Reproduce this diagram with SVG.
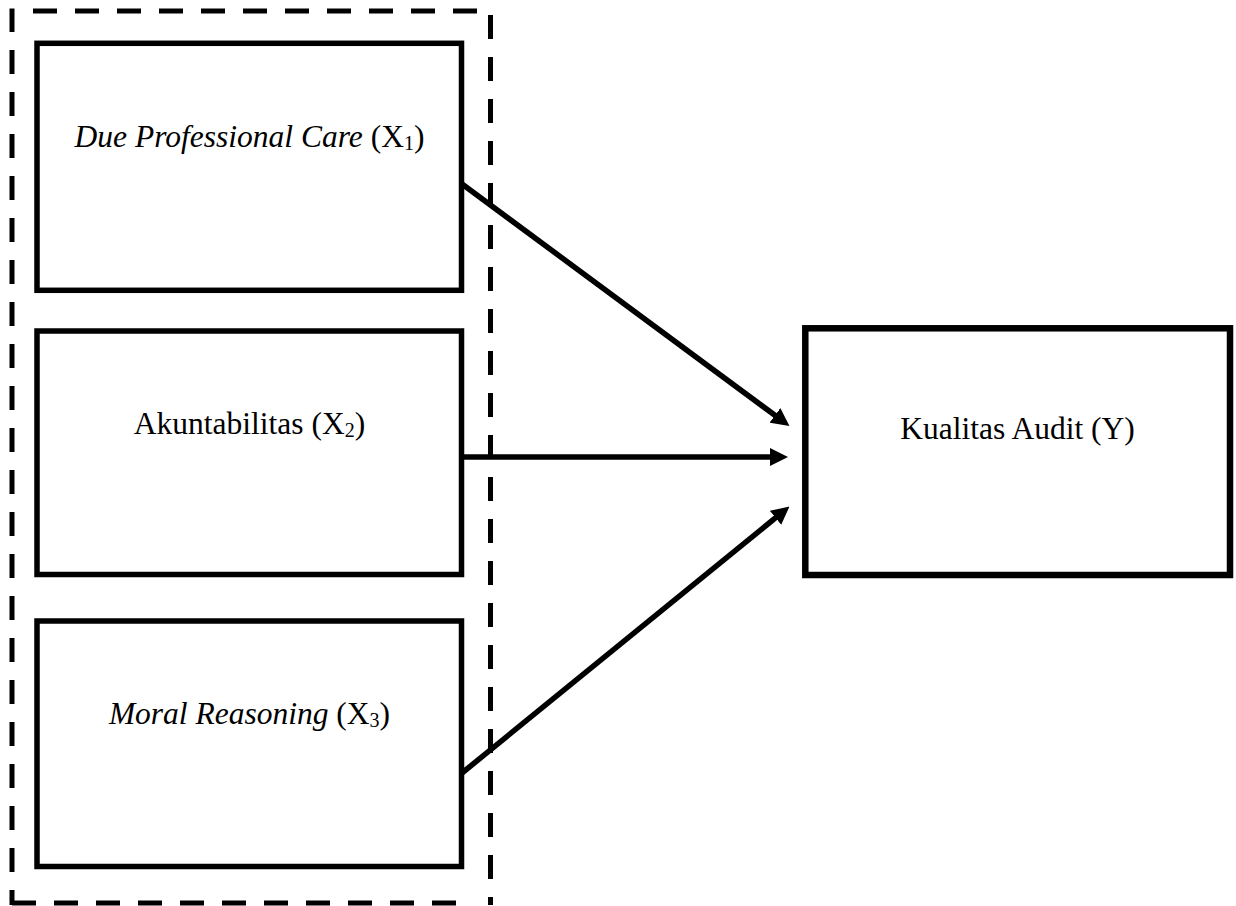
<svg xmlns="http://www.w3.org/2000/svg" width="1236" height="906" viewBox="0 0 1236 906">
<style>
.bg{fill:#fff}
.node{fill:#fff;stroke:#000;stroke-width:5.5}
.dash{fill:none;stroke:#000;stroke-width:5;stroke-dasharray:24 18}
.lbl{font-family:"Liberation Serif","Times New Roman",serif;font-size:31.5px;fill:#000;text-anchor:middle}
.it{font-style:italic}
.sub{font-size:20px}
.conn{fill:none;stroke:#000;stroke-width:5.5}
</style>
<defs>
<marker id="ah" markerUnits="userSpaceOnUse" viewBox="0 0 18 18" refX="5" refY="9" markerWidth="18" markerHeight="18" orient="auto">
<path d="M0,0 L18,9 L0,18 z" fill="#000"/>
</marker>
</defs>
<rect class="bg" x="0" y="0" width="1236" height="906"/>
<g id="group-box">
<path class="dash" d="M12 8.5 V905" stroke-dashoffset="0.5"/>
<path class="dash" d="M33 11 H493"/>
<path class="dash" d="M490.5 15 V905"/>
<path class="dash" d="M12 903 H472"/>
</g>
<g id="x1">
<rect class="node" x="37" y="43.3" width="424.5" height="247"/>
<text class="lbl" x="249.5" y="146.7"><tspan class="it">Due Professional Care</tspan> (X<tspan class="sub" dy="3">1</tspan><tspan dy="-3">)</tspan></text>
</g>
<g id="x2">
<rect class="node" x="37" y="331" width="424.5" height="243.5"/>
<text class="lbl" x="249.5" y="434">Akuntabilitas (X<tspan class="sub" dy="3">2</tspan><tspan dy="-3">)</tspan></text>
</g>
<g id="x3">
<rect class="node" x="37" y="621" width="424.5" height="245.5"/>
<text class="lbl" x="249.5" y="724"><tspan class="it">Moral Reasoning</tspan> (X<tspan class="sub" dy="3">3</tspan><tspan dy="-3">)</tspan></text>
</g>
<g id="y">
<rect class="node" x="805.3" y="328.3" width="424.7" height="246.7" style="stroke-width:6.5"/>
<text class="lbl" x="1017.6" y="439.3">Kualitas Audit (Y)</text>
</g>
<g id="connectors">
<line class="conn" x1="462" y1="184" x2="779" y2="418.3" marker-end="url(#ah)"/>
<line class="conn" x1="462" y1="457" x2="775" y2="457" marker-end="url(#ah)"/>
<line class="conn" x1="462" y1="773" x2="779.4" y2="514.7" marker-end="url(#ah)"/>
</g>
</svg>
